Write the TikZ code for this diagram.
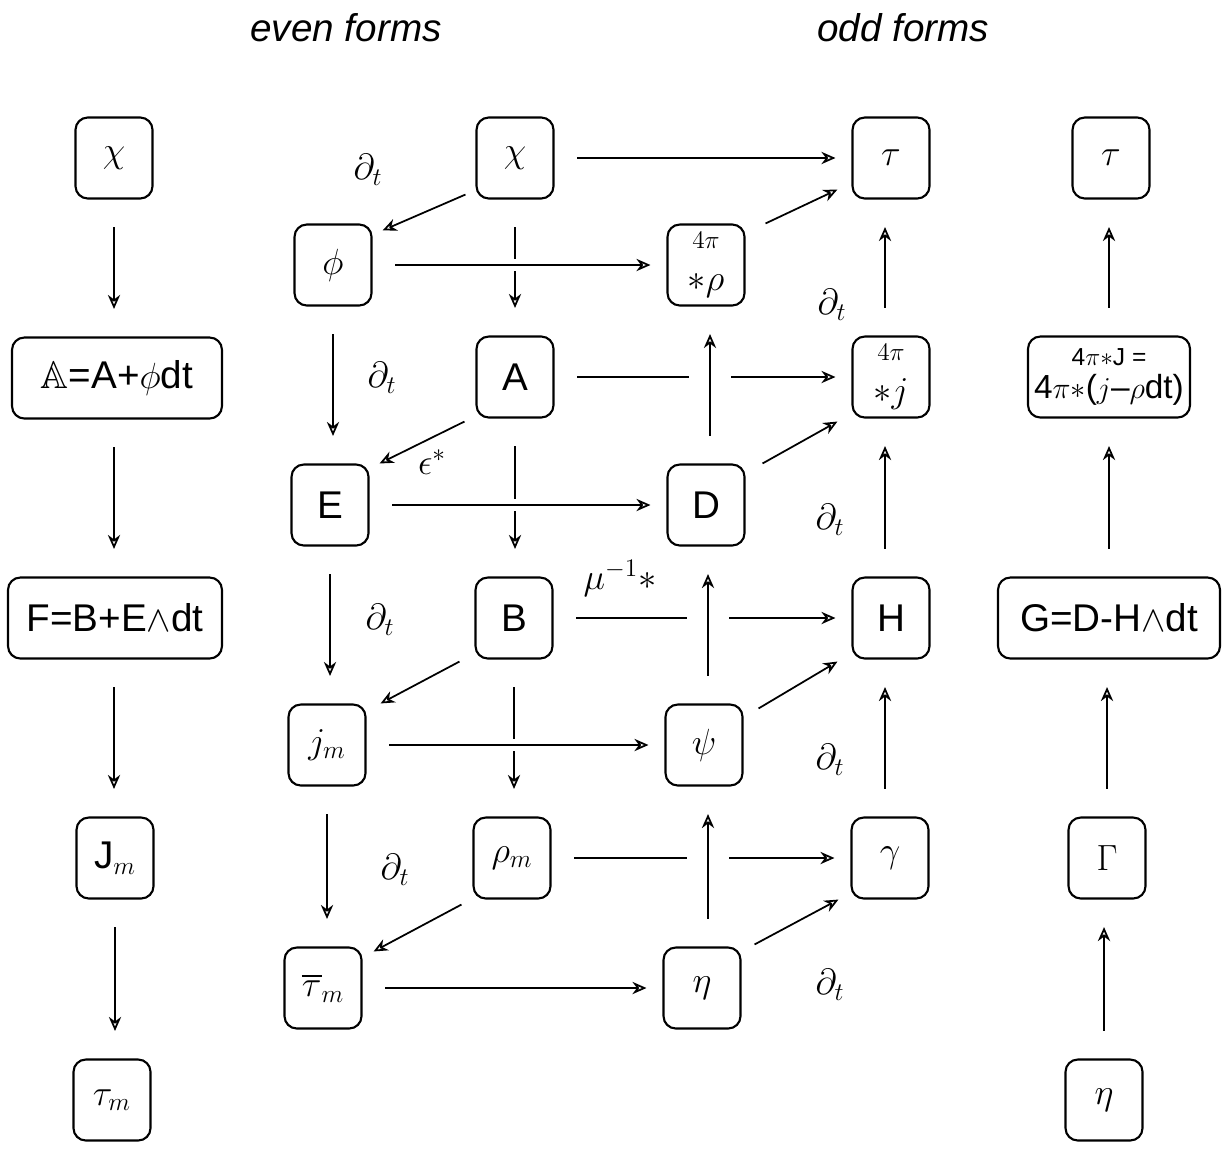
\documentclass[tikz,border=0pt]{standalone}
\usepackage{amsmath,amssymb}
\usepackage{fontspec}
\setmainfont{Liberation Sans}
\usetikzlibrary{arrows.meta}

\begin{document}
\begin{tikzpicture}[x=0.02cm, y=-0.02cm, >={Stealth[open,length=8pt,width=7pt]},
  font=\fontsize{22}{26}\selectfont,
  form/.style={draw, line width=1.2pt, rounded corners=7pt, minimum width=1.54cm, minimum height=1.62cm, inner sep=2pt},
  vlink/.style={->, line width=1pt, shorten <=0.55cm, shorten >=0.55cm},
  hlink/.style={->, line width=1pt, shorten <=0.45cm, shorten >=0.32cm},
  dlink/.style={->, line width=1pt},
  overgap/.style={preaction={draw=white, -, line width=#1}}]
  \useasboundingbox (0,0) rectangle (1222,1149);
  \node[font=\itshape\fontsize{22}{26}\selectfont] (even) at (346,28) {even forms};
  \node[font=\itshape\fontsize{22}{26}\selectfont] (odd) at (903,28) {odd forms};
  % left column
  \node[form] (chiL) at (114,158) {$\chi$};
  \node[form, minimum width=4.2cm] (AL) at (117,378) {$\mathbb{A}$=A+$\phi$dt};
  \node[form, minimum width=4.28cm] (FL) at (115,618) {F=B+E$\wedge$dt};
  \node[form] (JmL) at (115,858) {J$_m$};
  \node[form] (taumL) at (112,1100) {$\tau_m$};
  % even forms
  \node[form] (phi) at (333,265) {$\phi$};
  \node[form] (E) at (330,505) {E};
  \node[form] (jm) at (327,745) {$j_m$};
  \node[form] (taubm) at (323,988) {$\overline{\tau}_m$};
  \node[form] (chi) at (515,158) {$\chi$};
  \node[form] (A) at (515,377) {A};
  \node[form] (B) at (514,618) {B};
  \node[form] (rhom) at (512,858) {$\rho_m$};
  % odd forms
  \node[form, align=center] (rhof) at (706,265) {{\fontsize{14}{16}\selectfont$4\pi$}\\[-2pt]$\ast\rho$};
  \node[form] (D) at (706,505) {D};
  \node[form] (psi) at (704,745) {$\psi$};
  \node[form] (eta) at (702,988) {$\eta$};
  \node[form] (tau) at (891,158) {$\tau$};
  \node[form, align=center] (jf) at (891,377) {{\fontsize{14}{16}\selectfont$4\pi$}\\[-2pt]$\ast j$};
  \node[form] (H) at (891,618) {H};
  \node[form] (gam) at (890,858) {$\gamma$};
  % right column
  \node[form] (tauR) at (1111,158) {$\tau$};
  \node[form, minimum width=3.24cm, align=center, font=\fontsize{19}{19}\selectfont] (JR) at (1109,377)
    {{\fontsize{14}{14}\selectfont 4$\pi\ast$J =}\\4$\pi\ast$($j$--$\rho$dt)};
  \node[form, minimum width=4.44cm] (GR) at (1109,618) {G=D-H$\wedge$dt};
  \node[form] (GamR) at (1107,858) {$\Gamma$};
  \node[form] (etaR) at (1104,1100) {$\eta$};

  \draw[vlink] (chiL.south) -- (chiL.south |- AL.north);
  \draw[vlink] (AL.south -| chiL) -- (chiL |- FL.north);
  \draw[vlink] (FL.south -| chiL) -- (chiL |- JmL.north);
  \draw[vlink] (JmL.south) -- (JmL.south |- taumL.north);

  \draw[vlink] (etaR.north) -- (etaR.north |- GamR.south);
  \draw[vlink] (GamR.north) -- (GamR.north |- GR.south);
  \draw[vlink] (GR.north) -- (GR.north |- JR.south);
  \draw[vlink] (JR.north) -- (JR.north |- tauR.south);

  \draw[vlink] (phi.south) -- (phi.south |- E.north);
  \draw[vlink] (E.south) -- (E.south |- jm.north);
  \draw[vlink] (jm.south) -- (jm.south |- taubm.north);
  \draw[vlink] (chi.south) -- (chi.south |- A.north);
  \draw[vlink] (A.south) -- (A.south |- B.north);
  \draw[vlink] (B.south) -- (B.south |- rhom.north);

  \draw[hlink] (chi.east) -- (chi.east -| tau.west);
  \draw[hlink, overgap=7pt] (phi.east) -- (phi.east -| rhof.west);
  \draw[hlink] (A.east) -- (A.east -| jf.west);
  \draw[hlink, overgap=7pt] (E.east) -- (E.east -| D.west);
  \draw[hlink] (B.east) -- (B.east -| H.west);
  \draw[hlink, overgap=7pt] (jm.east) -- (jm.east -| psi.west);
  \draw[hlink] (rhom.east) -- (rhom.east -| gam.west);
  \draw[hlink] (taubm.east) -- (taubm.east -| eta.west);

  \draw[vlink, overgap=24pt] ([xshift=0.08cm]D.north) -- ([xshift=0.08cm]D.north |- rhof.south);
  \draw[vlink, overgap=24pt] ([xshift=0.08cm]psi.north) -- ([xshift=0.08cm]psi.north |- D.south);
  \draw[vlink, overgap=24pt] ([xshift=0.12cm]eta.north) -- ([xshift=0.12cm]eta.north |- psi.south);
  \draw[vlink] ([xshift=-0.12cm]jf.north) -- ([xshift=-0.12cm]jf.north |- tau.south);
  \draw[vlink] ([xshift=-0.12cm]H.north) -- ([xshift=-0.12cm]H.north |- jf.south);
  \draw[vlink] ([xshift=-0.1cm]gam.north) -- ([xshift=-0.1cm]gam.north |- H.south);

  \draw[dlink] ([shift={(-10,-5)}]chi.south west) -- ([shift={(10,7)}]phi.north east);
  \draw[dlink] ([shift={(-11,3)}]A.south west) -- ([shift={(10,0)}]E.north east);
  \draw[dlink] ([shift={(-15,2)}]B.south west) -- ([shift={(14,0)}]jm.north east);
  \draw[dlink] ([shift={(-11,5)}]rhom.south west) -- ([shift={(11,5)}]taubm.north east);
  \draw[dlink] ([shift={(20,0)}]rhof.north east) -- ([shift={(-14,-10)}]tau.south west);
  \draw[dlink] ([shift={(17,0)}]D.north east) -- ([shift={(-14,3)}]jf.south west);
  \draw[dlink] ([shift={(15,5)}]psi.north east) -- ([shift={(-14,2)}]H.south west);
  \draw[dlink] ([shift={(13,-2)}]eta.north east) -- ([shift={(-12,0)}]gam.south west);

  \node (dtphi) at (368,170) {$\partial_t$};
  \node (dtE) at (382,378) {$\partial_t$};
  \node (eps) at (432,462) {$\epsilon^{\ast}$};
  \node (dtjm) at (380,620) {$\partial_t$};
  \node (mu) at (620,578) {$\mu^{-1}\ast$};
  \node (dttau) at (395,870) {$\partial_t$};
  \node (dtj) at (832,305) {$\partial_t$};
  \node (dtH) at (830,520) {$\partial_t$};
  \node (dtgam) at (830,760) {$\partial_t$};
  \node (dteta) at (830,985) {$\partial_t$};
\end{tikzpicture}
\end{document}
